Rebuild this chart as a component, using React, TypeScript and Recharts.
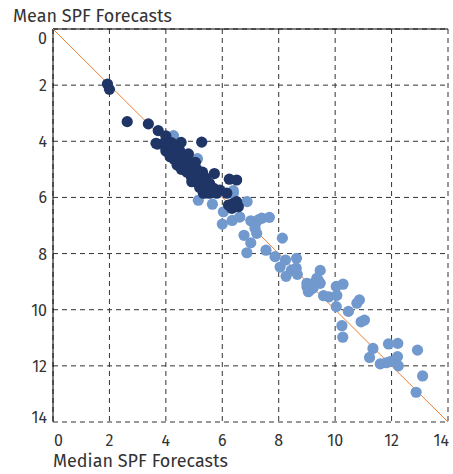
import React from "react";
import { ScatterChart, Scatter, XAxis, YAxis, CartesianGrid, ReferenceLine } from "recharts";

const ticks = [0, 2, 4, 6, 8, 10, 12, 14];
const diagonal = [
  { x: 0, y: 0 },
  { x: 14, y: 14 },
];

const lightPoints: [number, number][] = [
  [4.27, 3.8], [5.12, 4.62], [5.45, 5.85], [5.15, 6.1], [5.65, 6.24], [6.39, 5.76], [6.39, 5.85],
  [6.88, 6.15], [6.04, 6.51], [6.35, 6.82], [6.0, 6.95], [6.62, 6.7], [7.01, 6.83],
  [7.28, 6.8], [7.4, 6.74], [7.67, 6.71], [7.16, 6.98], [7.16, 7.1], [7.22, 7.28],
  [6.77, 7.35], [7.01, 7.62], [6.87, 7.97], [7.55, 7.88], [8.13, 7.45], [7.87, 8.11],
  [8.05, 8.48], [8.24, 8.23], [8.63, 8.17], [8.26, 8.81], [8.45, 8.59], [8.62, 8.52],
  [8.66, 8.74], [9.47, 8.6], [9.0, 9.18], [9.11, 9.3], [9.23, 9.06], [9.35, 8.88],
  [9.47, 9.06], [9.0, 9.06], [9.05, 9.36], [9.22, 9.23], [9.4, 8.95], [9.59, 9.5],
  [9.78, 9.54], [10.04, 9.17], [10.28, 9.09], [10.06, 9.49], [10.04, 9.89],
  [10.47, 10.06], [10.77, 9.77], [10.86, 9.65], [10.92, 10.43], [11.04, 10.37],
  [10.24, 10.57], [10.27, 10.98], [11.34, 11.38], [11.22, 11.7], [11.89, 11.22],
  [12.22, 11.2], [11.6, 11.93], [11.81, 11.89], [11.95, 11.85], [12.1, 11.82],
  [12.24, 12.0], [12.21, 11.67], [12.92, 11.44], [13.1, 12.36], [12.87, 12.94],
];

const darkPoints: [number, number][] = [
  [1.93, 1.96], [2.0, 2.15], [2.63, 3.3], [3.38, 3.38], [3.73, 3.62], [4.0, 3.81],
  [5.27, 4.03], [4.54, 4.04], [3.65, 4.07],
  [3.7, 4.1], [3.95, 4.05], [4.2, 4.05], [4.0, 4.25], [4.3, 4.2],
  [4.0, 4.35], [4.25, 4.4], [4.5, 4.35], [4.8, 4.45], [4.15, 4.55],
  [4.3, 4.65], [4.55, 4.6], [4.8, 4.7], [5.05, 4.75], [4.4, 4.85], [4.65, 4.85], [4.95, 4.9],
  [4.55, 5.0], [4.8, 5.05], [5.1, 5.0], [5.3, 5.1],
  [4.74, 5.1], [4.9, 5.25], [5.15, 5.25], [5.4, 5.3], [5.72, 5.15],
  [4.92, 5.44], [5.1, 5.45], [5.35, 5.45], [5.55, 5.5],
  [5.2, 5.65], [5.45, 5.6], [5.7, 5.68], [5.92, 5.74],
  [5.33, 5.85], [5.55, 5.85], [5.8, 5.85], [6.16, 5.85],
  [6.25, 5.35], [6.51, 5.38],
  [6.22, 6.27], [6.39, 6.21], [6.51, 6.15], [6.57, 6.33], [6.34, 6.39], [6.45, 6.3],
];

const toObjs = (arr: [number, number][]) => arr.map(([x, y]) => ({ x, y }));
const lightData = toObjs(lightPoints);
const darkData = toObjs(darkPoints);

const LIGHT = "#7199CD";
const DARK = "#1F3566";
const TEXT = "#333333";
const FONT = "'Fira Sans', Lato, 'Open Sans', sans-serif";

const dot = (color: string) => (props: any) => (
  <circle cx={props.cx} cy={props.cy} r={5.6} fill={color} />
);

const XTick = (props: any) => {
  const { x, y, payload } = props;
  const v = payload.value;
  const anchor = v === 0 ? "start" : v === 14 ? "end" : "middle";
  const dx = v === 0 ? 1 : v === 14 ? 1 : 0;
  return (
    <text x={x + dx} y={y + 16} textAnchor={anchor} fill={TEXT} fontSize={16} fontFamily={FONT}>
      {v}
    </text>
  );
};

const YTick = (props: any) => {
  const { y, payload } = props;
  const v = payload.value;
  const dy = v === 0 ? 9 : v === 14 ? -5 : 0;
  return (
    <text x={47} y={y + dy + 6} textAnchor="end" fill={TEXT} fontSize={16} fontFamily={FONT}>
      {v}
    </text>
  );
};

const nothing = () => <g />;

export default function App() {
  return (
    <div style={{ position: "absolute", left: 0, top: 0, width: 453, height: 474, background: "#fff" }}>
      <div
        style={{
          position: "absolute",
          left: 13,
          top: 7,
          fontSize: 18,
          lineHeight: "18px",
          color: TEXT,
          fontFamily: FONT,
          whiteSpace: "nowrap",
        }}
      >
        Mean SPF Forecasts
      </div>
      <div
        style={{
          position: "absolute",
          left: 53,
          top: 453,
          fontSize: 18,
          lineHeight: "16px",
          color: TEXT,
          fontFamily: FONT,
          whiteSpace: "nowrap",
        }}
      >
        Median SPF Forecasts
      </div>
      <ScatterChart
        width={453}
        height={474}
        margin={{ top: 29, right: 5, bottom: 22, left: 0 }}
        style={{ position: "absolute", left: 0, top: 0 }}
      >
        <CartesianGrid stroke="#333" strokeDasharray="5 4" />
        <XAxis
          type="number"
          dataKey="x"
          domain={[0, 14]}
          ticks={ticks}
          axisLine={false}
          tickLine={false}
          height={30}
          tick={<XTick />}
          interval={0}
        />
        <YAxis
          type="number"
          dataKey="y"
          domain={[0, 14]}
          ticks={ticks}
          reversed
          width={53}
          axisLine={{ stroke: "#000", strokeWidth: 1 }}
          tickLine={false}
          tick={<YTick />}
          interval={0}
        />
        <ReferenceLine y={0} stroke="#000" strokeWidth={1} />
        <Scatter
          data={diagonal}
          line={{ stroke: "#ED7D31", strokeWidth: 1 }}
          shape={nothing}
          isAnimationActive={false}
        />
        <Scatter data={lightData} shape={dot(LIGHT)} isAnimationActive={false} />
        <Scatter data={darkData} shape={dot(DARK)} isAnimationActive={false} />
      </ScatterChart>
    </div>
  );
}
